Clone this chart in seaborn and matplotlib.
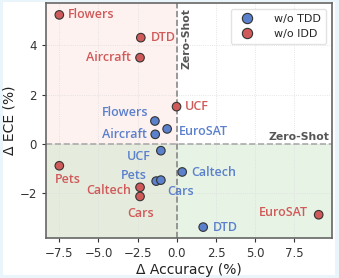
import matplotlib
matplotlib.use("Agg")
import matplotlib.pyplot as plt
import seaborn as sns
import pandas as pd
from matplotlib.patches import Rectangle

datasets = ["Flowers", "DTD", "Aircraft", "UCF", "Pets", "Caltech", "Cars", "EuroSAT"]
idd_acc = [-7.5, -2.3, -2.35, -0.02, -7.5, -2.35, -2.35, 9.05]
idd_ece = [5.22, 4.30, 3.49, 1.51, -0.88, -1.75, -2.12, -2.86]
tdd_acc = [-1.40, 1.68, -1.38, -1.02, -1.32, 0.34, -1.02, -0.62]
tdd_ece = [0.93, -3.36, 0.39, -0.27, -1.50, -1.13, -1.46, 0.61]
series = ["w/o TDD", "w/o IDD"]

df = pd.DataFrame({
    "dataset": datasets * 2,
    "acc": tdd_acc + idd_acc,
    "ece": tdd_ece + idd_ece,
    "variant": ["w/o TDD"] * 8 + ["w/o IDD"] * 8,
})

sns.set_theme(style="white")
plt.rcParams['font.family'] = ['DejaVu Sans']

blue = "#5b80cc"
red = "#d05a5a"
palette = {"w/o TDD": blue, "w/o IDD": red}

fig = plt.figure(figsize=(3.39, 2.78), dpi=100)
fig.patch.set_facecolor("#eaf4fb")
fig.patches.append(Rectangle((3/339, 3/278), 1 - 7/339, 1 - 5/278, transform=fig.transFigure,
                             facecolor="white", edgecolor="none", zorder=-10))
ax = fig.add_axes([46/339, 1 - 238/278, (332 - 46)/339, (238 - 3)/278])

xlim = (-8.35, 9.9)
ylim = (-3.8, 5.7)
ax.axvspan(xlim[0], 0, color="#fbe3df", alpha=0.45, zorder=0, lw=0)
ax.axhspan(ylim[0], 0, color="#cfe8cc", alpha=0.5, zorder=0, lw=0)
ax.axvline(0, color="#888888", ls="--", lw=1.2, zorder=1)
ax.axhline(0, color="#aaaaaa", ls="--", lw=1.2, zorder=1)
ax.grid(True, ls=":", lw=0.6, color="#dddddd", zorder=0)
ax.set_axisbelow(True)

sns.scatterplot(data=df, x="acc", y="ece", hue="variant", hue_order=series, palette=palette,
                s=38, edgecolor="#333333", linewidth=0.8, ax=ax, zorder=3)

# offsets in pixels: (dx, dy, ha, va)
offsets_idd = {
    "Flowers": (9, 0, "left", "center"),
    "DTD": (10, 0, "left", "center"),
    "Aircraft": (-9, 0, "right", "center"),
    "UCF": (8, 0, "left", "center"),
    "Pets": (8, -14, "center", "center"),
    "Caltech": (-9, -3, "right", "center"),
    "Cars": (1, -17, "center", "center"),
    "EuroSAT": (-11, 2, "right", "center"),
}
offsets_tdd = {
    "Flowers": (-7, 8, "right", "center"),
    "DTD": (10, 0, "left", "center"),
    "Aircraft": (-8, 0, "right", "center"),
    "UCF": (-10, -6, "right", "center"),
    "Pets": (-9, 6, "right", "center"),
    "Cars": (6, -11, "left", "center"),
    "Caltech": (9, -1, "left", "center"),
    "EuroSAT": (12, -3, "left", "center"),
}
lab_font = dict(family=["Open Sans", "DejaVu Sans"], fontsize=9, fontweight=600)
for d, x, y in zip(datasets, idd_acc, idd_ece):
    dx, dy, ha, va = offsets_idd[d]
    ax.annotate(d, (x, y), xytext=(dx, dy), textcoords="offset pixels", ha=ha, va=va,
                color=red, zorder=4, **lab_font)
for d, x, y in zip(datasets, tdd_acc, tdd_ece):
    dx, dy, ha, va = offsets_tdd[d]
    ax.annotate(d, (x, y), xytext=(dx, dy), textcoords="offset pixels", ha=ha, va=va,
                color=blue, zorder=4, **lab_font)

ax.text(0.3, 5.5, "Zero-Shot", rotation=90, ha="left", va="top", fontsize=7.8,
        fontweight="bold", color="#555555")
ax.text(9.75, 0.08, "Zero-Shot", ha="right", va="bottom", fontsize=7.8,
        fontweight="bold", color="#555555")

ax.set_xlim(xlim)
ax.set_ylim(ylim)
ax.set_xticks([-7.5, -5.0, -2.5, 0.0, 2.5, 5.0, 7.5])
ax.set_yticks([-2, 0, 2, 4])
ax.tick_params(axis="both", labelsize=8.5, length=3, width=0.8, colors="#333333", bottom=True, left=True)
ax.set_xlabel("Δ Accuracy (%)", fontsize=10, color="#222222", labelpad=2)
ax.set_ylabel("Δ ECE (%)", fontsize=10, color="#222222", labelpad=2)
for s in ax.spines.values():
    s.set_color("#666666")
    s.set_linewidth(1.2)

leg = ax.legend(loc="upper right", fontsize=8, frameon=True, markerscale=1.2,
                borderpad=0.5, handletextpad=1.4, labelspacing=0.4)
leg.get_frame().set_edgecolor("#dddddd")
for h in leg.legend_handles:
    try:
        h.set_markeredgecolor("#333333")
    except AttributeError:
        h.set_edgecolor("#333333")

fig.savefig("out.png", dpi=100, facecolor=fig.get_facecolor())
